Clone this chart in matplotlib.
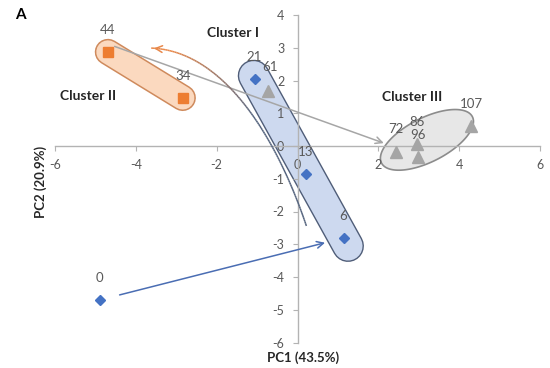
import numpy as np
import matplotlib
matplotlib.use('Agg')
import matplotlib.pyplot as plt
from matplotlib.collections import LineCollection

plt.rcParams['font.family'] = ['Lato', 'DejaVu Sans']
plt.rcParams['axes.unicode_minus'] = False

# ---- data (PC1, PC2 scores per sampling day) ----
blue_days = ['0', '6', '13', '21']
blue_pc1 = [-4.89, 1.14, 0.20, -1.04]
blue_pc2 = [-4.70, -2.81, -0.86, 2.05]

orange_days = ['34', '44']
orange_pc1 = [-2.84, -4.69]
orange_pc2 = [1.47, 2.87]

grey_days = ['61', '72', '86', '96', '107']
grey_pc1 = [-0.74, 2.44, 2.96, 2.99, 4.30]
grey_pc2 = [1.68, -0.17, 0.05, -0.34, 0.61]

xticks = [-6, -4, -2, 0, 2, 4, 6]
yticks = [-6, -5, -4, -3, -2, -1, 0, 1, 2, 3, 4]

BLUE = '#4472c4'
ORANGE = '#ed7d31'
GREY = '#a5a5a5'
TXT = '#595959'

fig = plt.figure(figsize=(5.5, 3.68), dpi=100)
W, H = 550, 368
ax = fig.add_axes([55 / W, 1 - 342.5 / H, 485 / W, 327.5 / H])
ax.set_xlim(-6, 6)
ax.set_ylim(-6, 4)
sx, sy = 485 / 12, 327.5 / 10   # px per data unit

# spines through the origin
for s in ('top', 'right'):
    ax.spines[s].set_visible(False)
for s in ('left', 'bottom'):
    ax.spines[s].set_position(('data', 0))
    ax.spines[s].set_color('#b3b3b3')
    ax.spines[s].set_linewidth(1.0)
ax.set_xticks(xticks)
ax.set_yticks(yticks)
ax.tick_params(direction='out', length=3.5, width=0.8, color='#b3b3b3',
               labelsize=9, labelcolor=TXT, pad=6)
ax.patch.set_visible(False)

# ---- cluster outlines ----
# Cluster II capsule (44 -> 34)
ax.plot(orange_pc1, orange_pc2, color='#cf8a5c', lw=19, solid_capstyle='round', zorder=1)
ax.plot(orange_pc1, orange_pc2, color='#fbd9bf', lw=16.8, solid_capstyle='round', zorder=1)

# Cluster I capsule (21 -> 6)
p21 = np.array([blue_pc1[3], blue_pc2[3]])
p6 = np.array([blue_pc1[1], blue_pc2[1]])
d = p6 - p21
cap = np.array([p21 - 0.02 * d, p6 + 0.05 * d])
ax.plot(cap[:, 0], cap[:, 1], color='#4f5d78', lw=23, solid_capstyle='round', zorder=1)
ax.plot(cap[:, 0], cap[:, 1], color='#cdd9ef', lw=21, solid_capstyle='round', zorder=1)

# Cluster III ellipse (built in pixel space, mapped back to data)
cx = np.mean(grey_pc1[1:]) + 0.03
cy = np.mean(grey_pc2[1:]) + 0.15
phi = np.linspace(0, 2 * np.pi, 200)
a, b, ang = 51, 22, np.deg2rad(27)
ex = a * np.cos(phi) * np.cos(ang) - b * np.sin(phi) * np.sin(ang)
ey = a * np.cos(phi) * np.sin(ang) + b * np.sin(phi) * np.cos(ang)
ax.fill(cx + ex / sx, cy + ey / sy, facecolor='#e7e7e7', edgecolor='#8c8c8c',
        lw=1.2, zorder=1)

# ---- trajectory arrows ----
p0 = np.array([blue_pc1[0], blue_pc2[0]])
v = p6 - p0
ax.annotate('', xy=p0 + 0.935 * v, xytext=p0 + 0.07 * v,
            arrowprops=dict(arrowstyle='->', color='#4a6db3', lw=1.1,
                            mutation_scale=12), zorder=3)

p44 = np.array([orange_pc1[1], orange_pc2[1]])
ax.annotate('', xy=(2.2, 0.06), xytext=(p44[0] + 0.1, p44[1] + 0.2),
            arrowprops=dict(arrowstyle='->', color='#a6a6a6', lw=1.1,
                            mutation_scale=12), zorder=3)

# curved arrow from cluster I back to cluster II (colour fades blue -> orange)
P = np.array([[0.22, -2.44], [-0.5, 0.2], [-1.8, 2.9], [-3.62, 2.99]])
t = np.linspace(0, 1, 120)[:, None]
curve = ((1 - t) ** 3 * P[0] + 3 * (1 - t) ** 2 * t * P[1]
         + 3 * (1 - t) * t ** 2 * P[2] + t ** 3 * P[3])
segs = np.stack([curve[:-1], curve[1:]], axis=1)
c0 = np.array(matplotlib.colors.to_rgb('#56657f'))
c1 = np.array(matplotlib.colors.to_rgb('#e8884a'))
w = np.clip((t[:-1, 0] - 0.45) / 0.45, 0, 1)[:, None]
cols = c0 * (1 - w) + c1 * w
ax.add_collection(LineCollection(segs, colors=cols, lw=1.1, zorder=3))
ax.annotate('', xy=curve[-1], xytext=curve[-6],
            arrowprops=dict(arrowstyle='->', color='#e8884a', lw=1.1,
                            mutation_scale=12), zorder=3)

# ---- points ----
ax.plot(blue_pc1, blue_pc2, 'D', color=BLUE, ms=5.5, ls='none', zorder=5)
ax.plot(orange_pc1, orange_pc2, 's', color=ORANGE, ms=7.5, ls='none', zorder=5)
ax.plot(grey_pc1, grey_pc2, '^', color=GREY, ms=8, ls='none', zorder=5)

def label(names, xs, ys):
    for n, x, y in zip(names, xs, ys):
        dx = {'61': 2, '21': -1}.get(n, 0)
        dy = {'61': 17}.get(n, 16)
        ax.annotate(n, (x, y), xytext=(dx, dy), textcoords='offset points',
                    ha='center', va='center', fontsize=9.5, color=TXT, zorder=6)

label(blue_days, blue_pc1, blue_pc2)
label(orange_days, orange_pc1, orange_pc2)
label(grey_days, grey_pc1, grey_pc2)

# ---- cluster names ----
ax.text(-1.6, 3.44, 'Cluster I', fontsize=10, fontweight='bold', color='#262626',
        ha='center', va='center')
ax.text(-5.17, 1.54, 'Cluster II', fontsize=10, fontweight='bold', color='#262626',
        ha='center', va='center')
ax.text(2.83, 1.49, 'Cluster III', fontsize=10, fontweight='bold', color='#262626',
        ha='center', va='center')

fig.text(303 / W, 1 - 358 / H, 'PC1 (43.5%)', fontsize=9.5, fontweight='bold',
         color='#262626', ha='center', va='center')
fig.text(41 / W, 1 - 182 / H, 'PC2 (20.9%)', fontsize=9.5, fontweight='bold',
         color='#262626', ha='center', va='center', rotation=90)
fig.text(20 / W, 1 - 15 / H, 'A', fontsize=11, fontweight='bold', color='#000000',
         ha='center', va='center')

fig.savefig('out.png', dpi=100)
